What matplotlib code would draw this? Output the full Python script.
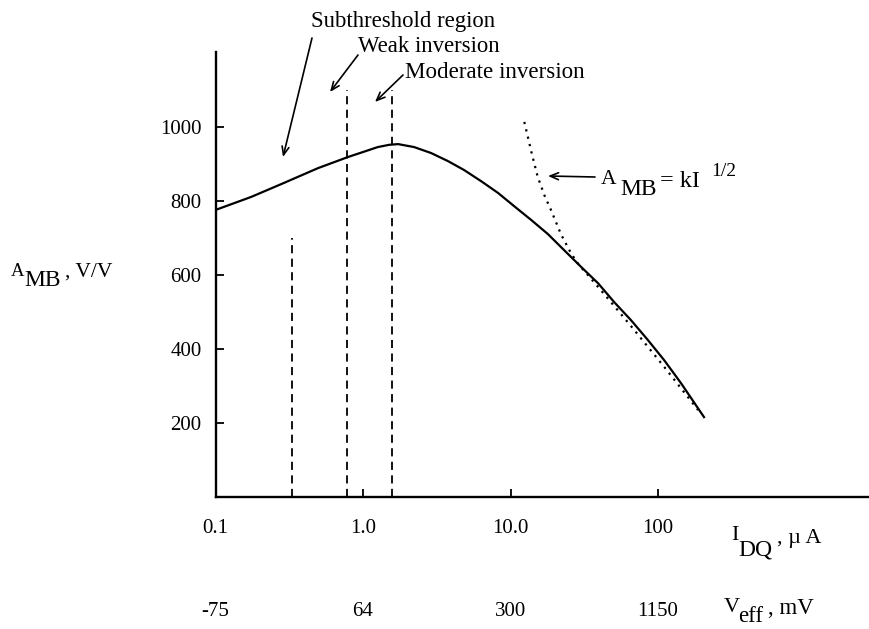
import numpy as np
import matplotlib
matplotlib.use('Agg')
import matplotlib.pyplot as plt
import matplotlib.transforms as mtransforms

plt.rcParams['font.family'] = ['Liberation Serif', 'DejaVu Serif']

W, H = 869, 629

# main curve: A_MB vs I_DQ (uA)
curve_I = [0.1, 0.174, 0.291, 0.495, 0.79, 1.26, 1.5, 1.73, 2.22, 2.89, 3.77,
           4.84, 6.31, 8.23, 10.6, 13.8, 17.9, 23.0, 30.1, 39.2, 50.4, 65.6,
           85.5, 110, 143, 205]
curve_A = [776, 811, 849, 889, 919, 946, 952, 954, 946, 930, 908,
           884, 854, 822, 786, 749, 711, 668, 622, 578, 527, 478,
           424, 370, 308, 216]

# square-law asymptote (dotted)
sq_I = [12.4, 14, 15.3, 17, 18.8, 22, 25.7, 29, 33.5, 45, 65.6, 110, 187]
sq_A = [1014, 925, 865, 815, 776, 710, 659, 628, 600, 540, 462, 352, 235]

# region boundaries (dashed)
bound_I = [0.33, 0.78, 1.57]
bound_top = [700, 1100, 1100]

xticks = [0.1, 1, 10, 100]
xtick_labels = ['0.1', '1.0', '10.0', '100']
veff_labels = ['-75', '64', '300', '1150']
yticks = [200, 400, 600, 800, 1000]


def fp(x, y):
    # pixel position (from top-left) -> figure fraction
    return x / W, 1 - y / H


fig = plt.figure(figsize=(W / 100, H / 100), dpi=100)
ax = fig.add_axes([215.5 / W, 132 / H, (W - 215.5) / W, 445 / H])

ax.plot(curve_I, curve_A, color='black', lw=1.6, solid_joinstyle='round')
ax.plot(sq_I, sq_A, color='black', lw=1.6, linestyle=(0, (1, 2.4)))
for xi, top in zip(bound_I, bound_top):
    ax.plot([xi, xi], [0, top], color='black', lw=1.3, linestyle=(0, (4.5, 3)))

ax.set_xscale('log')
ax.set_xlim(0.1, 2693)
ax.set_ylim(0, 1203)
ax.set_xticks(xticks)
ax.set_xticklabels(xtick_labels)
ax.minorticks_off()
ax.set_yticks(yticks)
ax.tick_params(axis='both', direction='in', length=6, width=1.3, labelsize=15)
ax.tick_params(axis='x', pad=16)
ax.tick_params(axis='y', pad=10)
for side in ['top', 'right']:
    ax.spines[side].set_visible(False)
for side in ['left', 'bottom']:
    ax.spines[side].set_linewidth(1.7)

# V_eff row under the current ticks
trans = mtransforms.blended_transform_factory(ax.transData, fig.transFigure)
for xi, lab in zip(xticks, veff_labels):
    ax.text(xi, 1 - 611 / H, lab, transform=trans, ha='center', va='center',
            fontsize=15)


def piece(x, y, s, size):
    fig.text(*fp(x, y), s, ha='left', va='center', fontsize=size)


# y label A_MB, V/V
piece(11, 271, 'A', 13.5)
piece(24, 281, 'MB', 17)
piece(65, 272, ', V/V', 15.5)

# x labels
piece(731, 535, 'I', 16)
piece(738, 550, 'DQ', 17)
piece(777, 538, ', \u00b5 A', 16)
piece(724, 607, 'V', 16)
piece(738, 617, 'eff', 16.5)
piece(768, 609, ', mV', 16.5)

# region annotations
piece(311, 22, 'Subthreshold region', 16.4)
piece(358, 46, 'Weak inversion', 16.4)
piece(405, 72, 'Moderate inversion', 16.6)

# equation label
piece(601, 180, 'A', 15.5)
piece(620, 189, 'MB', 17)
piece(660, 181, '= kI', 17.5)
piece(711, 171, '1/2', 14)

arrows = [((312, 38), (283, 157)),
          ((358, 55), (330, 92)),
          ((403, 75), (375, 102)),
          ((595, 177), (548, 176))]
for tail, head in arrows:
    ax.annotate('', xy=fp(*head), xycoords='figure fraction',
                xytext=fp(*tail), textcoords='figure fraction',
                arrowprops=dict(arrowstyle='->,head_length=0.6,head_width=0.25',
                                color='black', lw=1.2, shrinkA=0, shrinkB=0))

fig.savefig('out.png', dpi=100)
